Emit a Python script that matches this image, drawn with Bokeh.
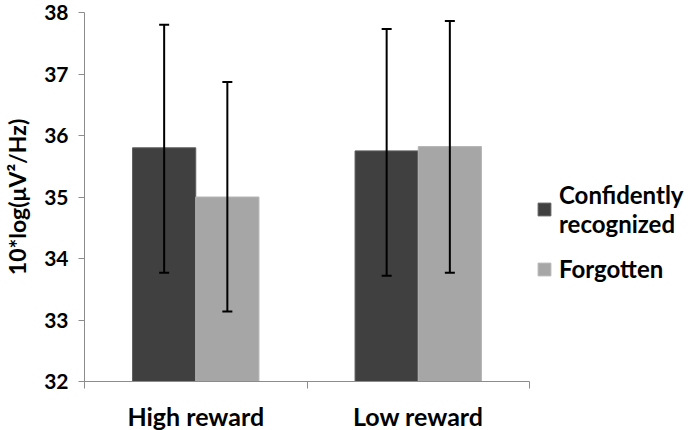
from bokeh.plotting import figure
from bokeh.models import (ColumnDataSource, FixedTicker, Whisker, TeeHead, Legend, LegendItem, Range1d)
from bokeh.transform import dodge
from bokeh.embed import file_html
from bokeh.resources import INLINE

categories = ["High reward", "Low reward"]
series = ["Confidently recognized", "Forgotten"]
confident_mean = [35.80, 35.75]
confident_upper = [37.80, 37.73]
confident_lower = [33.77, 33.72]
forgotten_mean = [35.00, 35.82]
forgotten_upper = [36.87, 37.86]
forgotten_lower = [33.14, 33.77]
y_ticks = [32, 33, 34, 35, 36, 37, 38]

FONT = "Lato"
DARK = "#404040"
LIGHT = "#a6a6a6"
BAR_W = 0.284

xc = [i + 0.5 for i in range(len(categories))]
src = ColumnDataSource(dict(
    x=xc,
    cm=confident_mean, cu=confident_upper, cl=confident_lower,
    fm=forgotten_mean, fu=forgotten_upper, fl=forgotten_lower,
))

p = figure(frame_width=445, frame_height=369, output_backend="svg", toolbar_location=None,
           x_range=Range1d(0, len(categories)), y_range=Range1d(32, 38),
           min_border_left=84, min_border_right=10, min_border_top=12, min_border_bottom=40)
p.outline_line_color = None
p.grid.visible = False
p.background_fill_color = "white"
p.border_fill_color = "white"

r1 = p.vbar(x=dodge("x", -BAR_W / 2), top="cm", bottom=32, width=BAR_W, source=src,
            fill_color=DARK, line_color="#5e5e5e", line_width=1)
r2 = p.vbar(x=dodge("x", BAR_W / 2), top="fm", bottom=32, width=BAR_W, source=src,
            fill_color=LIGHT, line_color="#b5b5b5", line_width=1)

for xs, up, lo in [(-BAR_W / 2, "cu", "cl"), (BAR_W / 2, "fu", "fl")]:
    w = Whisker(base=dodge("x", xs), upper=up, lower=lo, source=src, level="annotation",
                line_color="black", line_width=2,
                upper_head=TeeHead(size=10, line_color="black", line_width=2),
                lower_head=TeeHead(size=10, line_color="black", line_width=2))
    p.add_layout(w)

# y axis
ya = p.yaxis[0]
ya.ticker = FixedTicker(ticks=y_ticks, minor_ticks=[])
ya.axis_line_color = "#8c8c8c"
ya.major_tick_line_color = "#8c8c8c"
ya.major_tick_out = 6
ya.major_tick_in = 0
ya.minor_tick_line_color = None
ya.major_label_text_font = FONT
ya.major_label_text_font_style = "bold"
ya.major_label_text_font_size = "21px"
ya.major_label_text_color = "black"
ya.major_label_standoff = 10
ya.axis_label = "10*log(μV²/Hz)"
ya.axis_label_text_font = FONT
ya.axis_label_text_font_style = "bold"
ya.axis_label_text_font_size = "23px"
ya.axis_label_text_color = "black"
ya.axis_label_standoff = 10

# x axis
xa = p.xaxis[0]
xa.ticker = FixedTicker(ticks=xc, minor_ticks=[0, 1, 2])
xa.major_label_overrides = {xc[i]: categories[i] for i in range(len(categories))}
xa.axis_line_color = "#8c8c8c"
xa.major_tick_line_color = None
xa.minor_tick_line_color = "#8c8c8c"
xa.minor_tick_out = 7
xa.minor_tick_in = 0
xa.major_label_text_font = FONT
xa.major_label_text_font_style = "bold"
xa.major_label_text_font_size = "25px"
xa.major_label_text_color = "black"
xa.major_label_standoff = 12

legend = Legend(items=[LegendItem(label="Confidently\nrecognized", renderers=[r1]),
                       LegendItem(label="Forgotten", renderers=[r2])],
                location=(7, 98), orientation="vertical",
                glyph_width=16, glyph_height=16, label_standoff=7,
                label_text_font=FONT, label_text_font_style="bold",
                label_text_font_size="24px", label_text_color="black",
                spacing=16, padding=0, margin=0,
                border_line_color=None, background_fill_alpha=0)
p.add_layout(legend, "right")

open("out.html", "w").write(file_html(p, INLINE))
